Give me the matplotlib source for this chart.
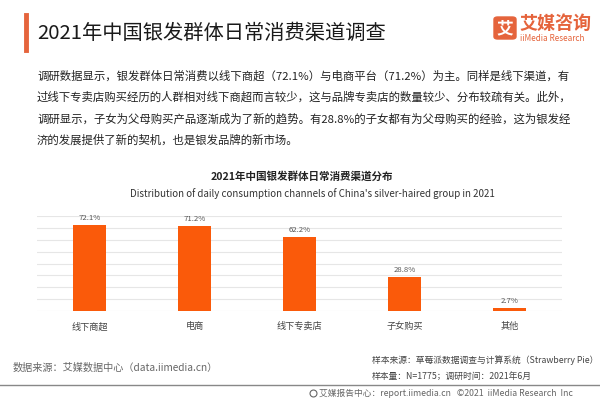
import matplotlib.pyplot as plt
from matplotlib.patches import FancyBboxPatch
from matplotlib.lines import Line2D

plt.rcParams['font.family'] = ['Noto Sans CJK SC', 'DejaVu Sans']

# data
channels = ["线下商超", "电商", "线下专卖店", "子女购买", "其他"]
shares = [72.1, 71.2, 62.2, 28.8, 2.7]

page_title = "2021年中国银发群体日常消费渠道调查"
paragraph = [
    "调研数据显示，银发群体日常消费以线下商超（72.1%）与电商平台（71.2%）为主。同样是线下渠道，有",
    "过线下专卖店购买经历的人群相对线下商超而言较少，这与品牌专卖店的数量较少、分布较疏有关。此外，",
    "调研显示，子女为父母购买产品逐渐成为了新的趋势。有28.8%的子女都有为父母购买的经验，这为银发经",
    "济的发展提供了新的契机，也是银发品牌的新市场。",
]
chart_title = "2021年中国银发群体日常消费渠道分布"
chart_subtitle = "Distribution of daily consumption channels of China's silver-haired group in 2021"

ORANGE = "#FA5A0A"
ACCENT = "#E5643C"
W, H = 600, 399


def fx(px):
    return px / W


def fy(py):
    return 1 - py / H


fig = plt.figure(figsize=(6, 3.99), dpi=100)
fig.patch.set_facecolor("white")

# header
fig.add_artist(Line2D([fx(26), fx(26)], [fy(15), fy(50)], color=ACCENT, lw=3.5))
fig.text(fx(37), fy(33), page_title, fontsize=14.6, color="#1a1a1a",
         va="center", ha="left")

# logo
fig.add_artist(FancyBboxPatch((fx(494), fy(39)), fx(22), 22 / H,
                              boxstyle="round,pad=0,rounding_size=0.006",
                              transform=fig.transFigure, color=ACCENT))
fig.text(fx(505), fy(28), "艾", fontsize=12, color="white",
         fontweight="bold", ha="center", va="center")
fig.text(fx(519), fy(23), "艾媒咨询", fontsize=13, color=ACCENT,
         fontweight="bold", ha="left", va="center")
fig.text(fx(520), fy(38.5), "iiMedia Research", fontsize=5.9, color=ACCENT,
         ha="left", va="center")

# paragraph
for i, line in enumerate(paragraph):
    fig.text(fx(37), fy(76 + i * 21.3), line, fontsize=8.2, color="#222222",
             ha="left", va="center")

# chart titles
fig.text(0.503, fy(176), chart_title, fontsize=7.6, fontweight="bold",
         color="#222222", ha="center", va="center")
fig.text(fx(312.5), fy(194), chart_subtitle, fontsize=7.0, color="#333333",
         ha="center", va="center")

# bar chart
ax = fig.add_axes([fx(37), fy(311), fx(562) - fx(37), fy(216) - fy(311)])
x = range(len(channels))
bars = ax.bar(x, shares, width=0.31, color=ORANGE, zorder=3)
for b, v in zip(bars, shares):
    ax.text(b.get_x() + b.get_width() / 2, v + 2.5, f"{v}%", ha="center",
            va="bottom", fontsize=5.6, color="#555555")
ax.set_xlim(-0.5, len(channels) - 0.5)
ax.set_ylim(0, 80)
ax.set_yticks(range(0, 81, 10))
ax.yaxis.grid(True, color="#E6E6E6", lw=0.8, zorder=0)
ax.tick_params(axis="y", left=False, labelleft=False)
ax.tick_params(axis="x", length=0, pad=8, labelsize=6.6, labelcolor="#444444")
ax.set_xticks(list(x))
ax.set_xticklabels(channels)
for s in ax.spines.values():
    s.set_visible(False)

# footer
fig.text(fx(13), fy(368), "数据来源：艾媒数据中心（data.iimedia.cn）", fontsize=7.3,
         color="#666666", ha="left", va="center")
fig.text(fx(372), fy(360), "样本来源：草莓派数据调查与计算系统（Strawberry Pie）",
         fontsize=6.3, color="#444444", ha="left", va="center")
fig.text(fx(372), fy(376), "样本量：N=1775；调研时间：2021年6月",
         fontsize=6.3, color="#444444", ha="left", va="center")
fig.add_artist(Line2D([0, 1], [fy(385), fy(385)], color="#888888", lw=1))
fig.add_artist(Line2D([fx(313)], [fy(393)], marker="o", ms=5, mfc="none",
                      mec="#666666", mew=0.8))
fig.text(fx(319), fy(393), "艾媒报告中心：report.iimedia.cn   ©2021  iiMedia Research  Inc",
         fontsize=6.3, color="#666666", ha="left", va="center")

fig.savefig("out.png", dpi=100, facecolor="white")
